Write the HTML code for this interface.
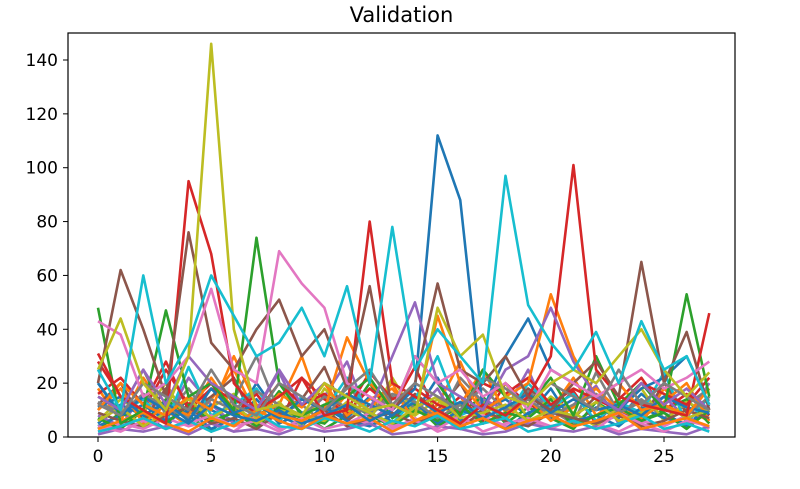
<!DOCTYPE html>
<html><head><meta charset="utf-8"><style>
body{margin:0;background:#fff;}
svg text{font-family:"DejaVu Sans","Liberation Sans",sans-serif;fill:#000;}
</style></head><body>
<svg id="chart" width="800" height="484" xmlns="http://www.w3.org/2000/svg"></svg>
<script>
const xTicks=[0,5,10,15,20,25];
const yTicks=[0,20,40,60,80,100,120,140];
const colors=["#1f77b4","#ff7f0e","#2ca02c","#d62728","#9467bd","#8c564b","#e377c2","#7f7f7f","#bcbd22","#17becf"];
const sBlue=[20,8,15,10,5,12,8,6,10,5,8,12,6,10,18,112,88,10,30,44,25,20,15,10,18,22,30,12];
const sOrange=[10,20,12,8,15,10,30,12,8,6,10,37,20,12,8,45,20,10,15,20,53,30,15,20,10,12,8,18];
const sGreen=[48,5,10,47,15,20,10,74,20,8,12,15,22,10,30,20,8,25,15,12,22,8,30,12,20,10,53,15];
const sRed=[31,15,10,5,95,68,20,10,15,22,8,10,80,20,15,10,5,12,8,15,30,101,25,15,12,10,8,46];
const sPurple=[15,10,25,12,30,20,15,10,25,12,20,15,10,30,50,20,15,10,25,30,48,28,15,10,20,12,18,10];
const sBrown=[20,62,40,15,76,35,25,40,51,30,40,18,56,10,20,57,25,20,30,15,10,20,28,15,65,20,39,10];
const sPink=[43,38,15,20,30,55,25,20,69,57,48,20,15,10,30,20,25,15,20,10,25,20,15,20,25,18,22,28];
const sGray=[12,8,20,15,10,25,12,8,20,15,10,18,25,12,20,15,10,22,18,12,20,15,10,25,12,20,15,10];
const sOlive=[25,44,20,10,30,146,40,10,12,8,20,15,10,12,8,48,30,38,15,12,20,25,20,30,40,25,15,24];
const sCyan=[25,10,60,20,35,60,45,30,35,48,30,56,20,78,25,40,30,20,97,49,35,25,39,20,43,25,30,12];
const mainSeries=[sBlue,sOrange,sGreen,sRed,sPurple,sBrown,sPink,sGray,sOlive,sCyan];
const n1=[5,12,8,3,15,10,6,20,8,4,12,7,15,5,9,22,6,10,14,8,18,5,11,7,16,9,4,12];
const n2=[18,6,22,10,4,14,25,8,12,30,6,16,10,20,5,12,28,9,6,15,10,22,8,14,5,18,10,6];
const n3=[3,9,5,14,8,2,11,6,17,9,3,8,20,7,12,4,9,15,5,11,7,3,13,8,6,10,14,5];
const n4=[28,15,10,25,12,20,8,16,5,22,14,9,18,11,26,8,15,6,20,12,9,17,5,14,22,10,16,8];
const n5=[8,4,16,6,22,12,5,10,24,7,15,28,6,12,9,18,4,14,10,25,6,12,19,5,10,15,7,20];
const n6=[12,20,6,18,9,15,22,4,10,14,26,6,12,8,16,10,20,5,9,18,12,7,15,10,6,20,9,14];
const n7=[2,5,3,7,4,6,2,8,3,5,9,4,6,3,7,2,5,8,4,6,3,7,5,2,6,4,8,3];
const n8=[15,10,25,8,18,6,14,30,9,12,5,20,8,15,11,6,22,13,8,17,10,5,24,9,14,7,12,18];
const n9=[6,14,9,20,5,11,16,7,13,4,18,10,6,22,8,14,5,12,20,7,15,9,4,11,18,6,13,9];
const n10=[20,9,14,5,26,8,12,18,6,15,10,22,9,5,14,30,8,12,7,20,11,16,6,13,9,24,5,15];
const n11=[4,8,12,6,10,3,7,14,5,9,11,6,4,8,13,5,10,7,3,9,12,6,8,4,11,7,5,9];
const n12=[10,18,5,12,8,22,10,6,16,11,20,8,14,18,6,10,12,25,9,14,6,11,18,10,7,13,20,6];
const n13=[7,3,10,5,12,6,9,4,11,7,5,13,8,4,10,6,12,5,9,7,14,4,8,11,6,9,3,10];
const n14=[16,22,12,28,10,18,14,9,20,12,16,10,24,14,18,12,9,20,16,22,12,18,14,10,20,16,12,22];
const n15=[1,3,2,4,1,5,2,3,1,4,2,3,5,1,2,4,3,1,2,5,3,2,4,1,3,2,1,4];
const n16=[9,6,4,8,11,5,7,3,9,6,10,4,7,9,5,8,3,10,6,4,9,7,5,8,4,6,10,7];
const n17=[4,2,6,3,5,8,4,6,2,7,3,5,9,4,6,3,8,2,5,7,4,6,3,9,5,2,6,4];
const n18=[13,9,16,11,7,14,10,17,12,8,15,11,9,16,13,7,12,18,10,14,8,12,16,9,13,11,8,15];
const n19=[6,11,4,9,14,7,12,5,10,8,6,13,9,5,11,15,7,9,12,6,10,8,13,6,9,12,7,10];
const n20=[2,4,7,3,6,2,5,9,4,3,7,5,2,6,4,8,3,5,7,2,4,6,3,5,8,3,5,2];
const n21=[11,15,8,13,6,18,9,12,7,14,10,16,12,8,15,9,13,7,11,16,9,14,10,12,8,15,11,9];
const n22=[3,6,9,5,2,7,4,10,6,3,8,5,7,2,6,9,4,7,3,6,8,4,6,9,3,5,7,4];
const noiseSeries=[n1,n2,n3,n4,n5,n6,n7,n8,n9,n10,n11,n12,n13,n14,n15,n16,n17,n18,n19,n20,n21,n22];

const L=68,R=735,T=33,B=437;
const xs=v=>98+v*(664-98)/25;
const ys=v=>B-v*(B-60)/140;
const svg=document.getElementById('chart');
const NS="http://www.w3.org/2000/svg";
function mk(tag,attrs){const e=document.createElementNS(NS,tag);for(const k in attrs)e.setAttribute(k,attrs[k]);return e;}
const clip=mk('clipPath',{id:'pc'});clip.appendChild(mk('rect',{x:L,y:T,width:R-L,height:B-T}));svg.appendChild(clip);
const g=mk('g',{'clip-path':'url(#pc)'});


svg.appendChild(g);
function drawSeries(arr,color,name){
  const p=mk('polyline',{points:arr.map((v,i)=>xs(i)+','+ys(v)).join(' '),fill:'none',stroke:color,'stroke-width':2.6,'stroke-linejoin':'round'});
  
  
  g.appendChild(p);
}
noiseSeries.forEach((s,i)=>drawSeries(s,colors[i%10],'noise-series-'+(i+1)));
mainSeries.forEach((s,i)=>drawSeries(s,colors[i],'series-'+(i+1)));
const frame=mk('rect',{x:L,y:T,width:R-L,height:B-T,fill:'none',stroke:'#000','stroke-width':1.2});


svg.appendChild(frame);
xTicks.forEach(t=>{
  svg.appendChild(mk('line',{x1:xs(t),x2:xs(t),y1:B,y2:B+5,stroke:'#000'}));
  const tx=mk('text',{x:xs(t),y:B+25,'text-anchor':'middle','font-size':17});
  tx.textContent=t;
  
  
  svg.appendChild(tx);
});
yTicks.forEach(t=>{
  svg.appendChild(mk('line',{x1:L-5,x2:L,y1:ys(t),y2:ys(t),stroke:'#000'}));
  const tx=mk('text',{x:L-10,y:ys(t)+6,'text-anchor':'end','font-size':17});
  tx.textContent=t;
  
  
  svg.appendChild(tx);
});
const title=mk('text',{x:(L+R)/2,y:22,'text-anchor':'middle','font-size':21});
title.textContent='Validation';


svg.appendChild(title);
</script>
</body></html>
